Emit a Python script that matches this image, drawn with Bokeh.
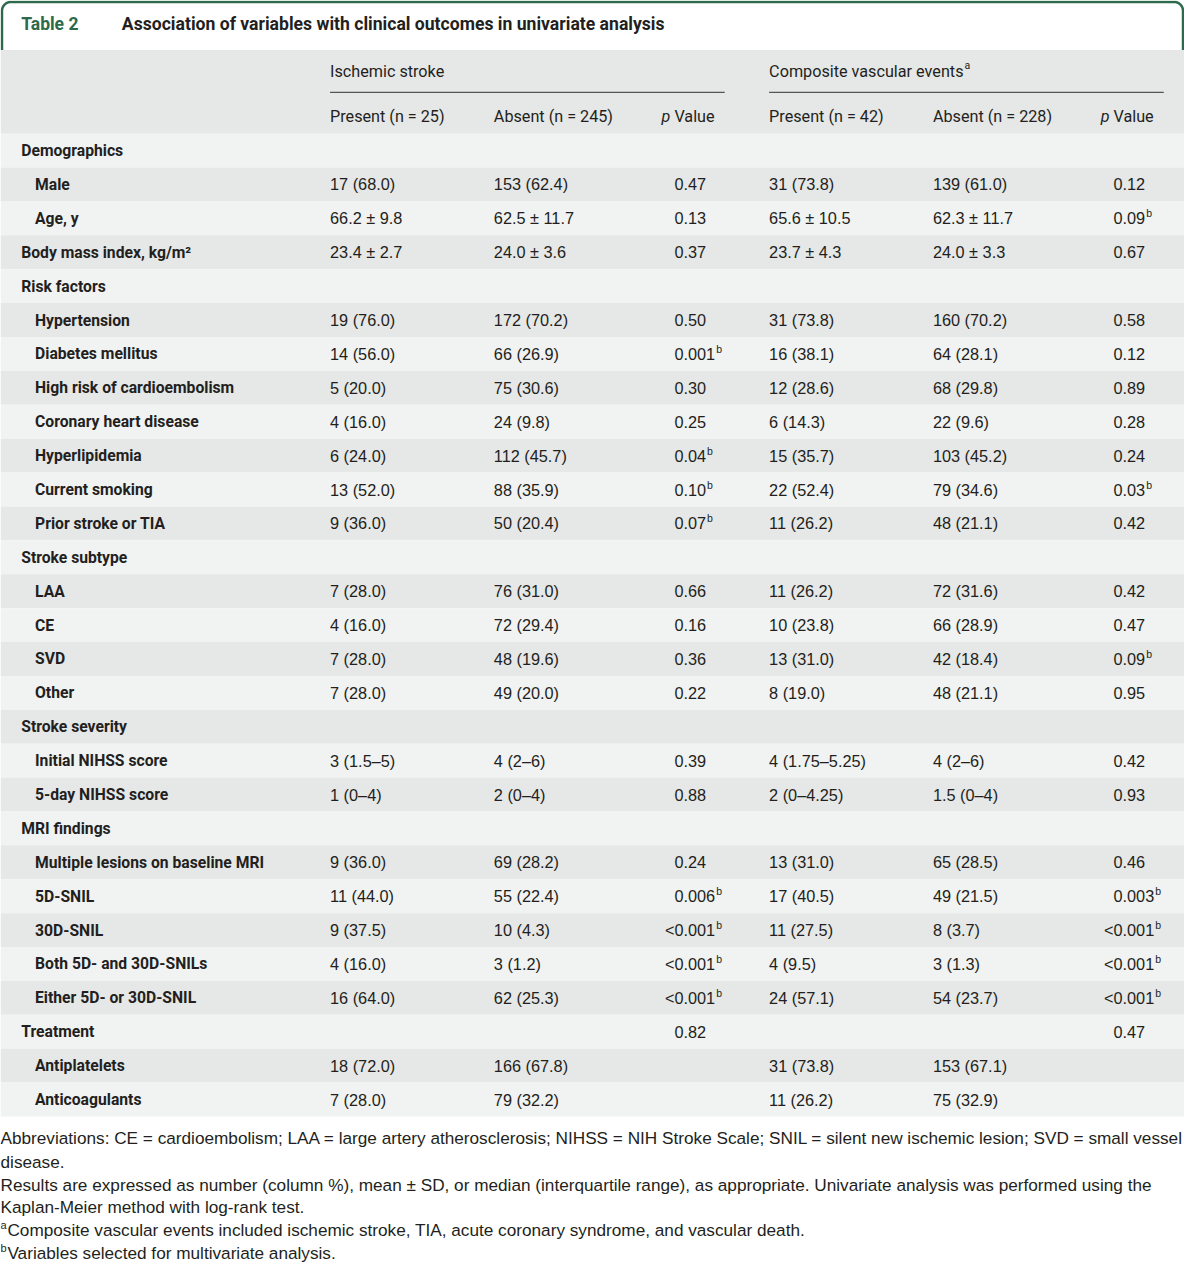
import math
from bokeh.plotting import figure
from bokeh.models import ColumnDataSource, Range1d
from bokeh.core.properties import value
from bokeh.embed import file_html
from bokeh.resources import INLINE

# ---------------- data ----------------
title_tag = "Table 2"
title_text = "Association of variables with clinical outcomes in univariate analysis"
group_labels = ["Ischemic stroke", "Composite vascular events"]
group_notes = ["", "a"]
col_headers = ["Present (n = 25)", "Absent (n = 245)", "p Value",
               "Present (n = 42)", "Absent (n = 228)", "p Value"]

labels = ["Demographics", "Male", "Age, y", "Body mass index, kg/m\u00b2", "Risk factors",
          "Hypertension", "Diabetes mellitus", "High risk of cardioembolism",
          "Coronary heart disease", "Hyperlipidemia", "Current smoking", "Prior stroke or TIA",
          "Stroke subtype", "LAA", "CE", "SVD", "Other", "Stroke severity",
          "Initial NIHSS score", "5-day NIHSS score", "MRI findings",
          "Multiple lesions on baseline MRI", "5D-SNIL", "30D-SNIL", "Both 5D- and 30D-SNILs",
          "Either 5D- or 30D-SNIL", "Treatment", "Antiplatelets", "Anticoagulants"]
level = [0, 1, 1, 0, 0, 1, 1, 1, 1, 1, 1, 1, 0, 1, 1, 1, 1, 0, 1, 1, 0, 1, 1, 1, 1, 1, 0, 1, 1]

is_present = ["", "17 (68.0)", "66.2 \u00b1 9.8", "23.4 \u00b1 2.7", "",
              "19 (76.0)", "14 (56.0)", "5 (20.0)", "4 (16.0)", "6 (24.0)", "13 (52.0)", "9 (36.0)",
              "", "7 (28.0)", "4 (16.0)", "7 (28.0)", "7 (28.0)", "",
              "3 (1.5\u20135)", "1 (0\u20134)", "",
              "9 (36.0)", "11 (44.0)", "9 (37.5)", "4 (16.0)", "16 (64.0)", "", "18 (72.0)", "7 (28.0)"]
is_absent = ["", "153 (62.4)", "62.5 \u00b1 11.7", "24.0 \u00b1 3.6", "",
             "172 (70.2)", "66 (26.9)", "75 (30.6)", "24 (9.8)", "112 (45.7)", "88 (35.9)", "50 (20.4)",
             "", "76 (31.0)", "72 (29.4)", "48 (19.6)", "49 (20.0)", "",
             "4 (2\u20136)", "2 (0\u20134)", "",
             "69 (28.2)", "55 (22.4)", "10 (4.3)", "3 (1.2)", "62 (25.3)", "", "166 (67.8)", "79 (32.2)"]
is_p = ["", "0.47", "0.13", "0.37", "",
        "0.50", "0.001", "0.30", "0.25", "0.04", "0.10", "0.07",
        "", "0.66", "0.16", "0.36", "0.22", "",
        "0.39", "0.88", "",
        "0.24", "0.006", "<0.001", "<0.001", "<0.001", "0.82", "", ""]
is_p_note = ["", "", "", "", "", "", "b", "", "", "b", "b", "b",
             "", "", "", "", "", "", "", "", "", "", "b", "b", "b", "b", "", "", ""]
cve_present = ["", "31 (73.8)", "65.6 \u00b1 10.5", "23.7 \u00b1 4.3", "",
               "31 (73.8)", "16 (38.1)", "12 (28.6)", "6 (14.3)", "15 (35.7)", "22 (52.4)", "11 (26.2)",
               "", "11 (26.2)", "10 (23.8)", "13 (31.0)", "8 (19.0)", "",
               "4 (1.75\u20135.25)", "2 (0\u20134.25)", "",
               "13 (31.0)", "17 (40.5)", "11 (27.5)", "4 (9.5)", "24 (57.1)", "", "31 (73.8)", "11 (26.2)"]
cve_absent = ["", "139 (61.0)", "62.3 \u00b1 11.7", "24.0 \u00b1 3.3", "",
              "160 (70.2)", "64 (28.1)", "68 (29.8)", "22 (9.6)", "103 (45.2)", "79 (34.6)", "48 (21.1)",
              "", "72 (31.6)", "66 (28.9)", "42 (18.4)", "48 (21.1)", "",
              "4 (2\u20136)", "1.5 (0\u20134)", "",
              "65 (28.5)", "49 (21.5)", "8 (3.7)", "3 (1.3)", "54 (23.7)", "", "153 (67.1)", "75 (32.9)"]
cve_p = ["", "0.12", "0.09", "0.67", "",
         "0.58", "0.12", "0.89", "0.28", "0.24", "0.03", "0.42",
         "", "0.42", "0.47", "0.09", "0.95", "",
         "0.42", "0.93", "",
         "0.46", "0.003", "<0.001", "<0.001", "<0.001", "0.47", "", ""]
cve_p_note = ["", "", "b", "", "", "", "", "", "", "", "b", "",
              "", "", "", "b", "", "", "", "", "", "", "b", "b", "b", "b", "", "", ""]

footnotes = [
    "Abbreviations: CE = cardioembolism; LAA = large artery atherosclerosis; NIHSS = NIH Stroke Scale; SNIL = silent new ischemic lesion; SVD = small vessel",
    "disease.",
    "Results are expressed as number (column %), mean \u00b1 SD, or median (interquartile range), as appropriate. Univariate analysis was performed using the",
    "Kaplan-Meier method with log-rank test.",
    "Composite vascular events included ischemic stroke, TIA, acute coronary syndrome, and vascular death.",
    "Variables selected for multivariate analysis.",
]
footnote_marks = ["", "", "", "", "a", "b"]

# ---------------- layout ----------------
W, H = 1200, 1281
PXW = 1184
K = W / PXW  # data units per screen pixel
GREEN = "#2d6a4c"
TXT = "#231f20"
DARK_BAND = "#e6e7e7"
LIGHT_BAND = "#f1f2f2"
LABEL_FONT = value("Roboto")
NUM_FONT = value("Liberation Sans")
NUM_PX = 16.3
# Liberation Sans advance widths (em) for p-value characters
ADV = {".": 0.278, "<": 0.584}


def num_width(s, px):
    return sum(ADV.get(c, 0.556) for c in s) * px * K


p = figure(width=PXW, height=1265, x_range=Range1d(0, W), y_range=Range1d(H, 0),
           output_backend="svg", toolbar_location=None, min_border=0)
p.axis.visible = False
p.grid.visible = False
p.outline_line_color = None
p.background_fill_color = "white"

row0, rh = 152.0, 34.32
n = len(labels)
ys = [row0 + i * rh for i in range(n)]

# header band
p.quad(left=[0], right=[W], top=[50], bottom=[ys[0] - rh / 2], fill_color=DARK_BAND, line_color=None)
# row bands
p.quad(left=[0] * n, right=[W] * n,
       top=[y - rh / 2 for y in ys], bottom=[y + rh / 2 for y in ys],
       fill_color=[LIGHT_BAND if i % 2 == 0 else DARK_BAND for i in range(n)], line_color=None)

# green frame at top (rounded corners)
r = 9
steps = [k * math.pi / 2 / 12 for k in range(13)]
xs_l = [1.5] + [1.5 + r - r * math.cos(t) for t in steps] + \
       [W - 1.5 - r + r * math.sin(t) for t in steps] + [W - 1.5]
ys_l = [50] + [1.5 + r - r * math.sin(t) for t in steps] + \
       [1.5 + r - r * math.cos(t) for t in steps] + [50]
p.line(xs_l, ys_l, line_color=GREEN, line_width=2.5)

# title
p.text(x=[21], y=[24], text=[title_tag], text_font=LABEL_FONT, text_font_style="bold",
       text_font_size="17.5px", text_color=GREEN, text_baseline="middle")
p.text(x=[123], y=[24], text=[title_text], text_font=LABEL_FONT, text_font_style="bold",
       text_font_size="17.6px", text_color=TXT, text_baseline="middle")

# header
p.text(x=[334, 779], y=[72, 72], text=group_labels, text_font=LABEL_FONT,
       text_font_size="16.2px", text_color=TXT, text_baseline="middle")
p.text(x=[977], y=[66], text=[group_notes[1]], text_font=LABEL_FONT,
       text_font_size="10.5px", text_color=TXT, text_baseline="middle")
p.segment(x0=[334, 779], x1=[734, 1179], y0=[93, 93], y1=[93, 93], line_color="#555555", line_width=1.2)
plain = [h for h in col_headers if not h.startswith("p ")]
p.text(x=[334, 500, 779, 945], y=[117] * 4, text=plain, text_font=LABEL_FONT,
       text_font_size="16.2px", text_color=TXT, text_baseline="middle")
p.text(x=[670, 1115], y=[117, 117], text=["p", "p"], text_font=LABEL_FONT, text_font_style="italic",
       text_font_size="16.2px", text_color=TXT, text_baseline="middle")
p.text(x=[683, 1128], y=[117, 117], text=["Value", "Value"], text_font=LABEL_FONT,
       text_font_size="16.2px", text_color=TXT, text_baseline="middle")

# labels
lab_src = ColumnDataSource(dict(x=[21 if lv == 0 else 35 for lv in level], y=ys, t=labels))
p.text(x="x", y="y", text="t", source=lab_src, text_font=LABEL_FONT, text_font_style="bold",
       text_font_size="15.7px", text_color=TXT, text_baseline="middle")

# value columns
for colx, vals in [(334, is_present), (500, is_absent), (779, cve_present), (945, cve_absent)]:
    src = ColumnDataSource(dict(x=[colx] * n, y=ys, t=vals))
    p.text(x="x", y="y", text="t", source=src, text_font=NUM_FONT,
           text_font_size=f"{NUM_PX}px", text_color=TXT, text_baseline="middle")

# p value columns, aligned on the leading digit, with superscript notes
for colx, vals, notes in [(683, is_p, is_p_note), (1128, cve_p, cve_p_note)]:
    main = [v[1:] if v.startswith("<") else v for v in vals]
    pre = ["<" if v.startswith("<") else "" for v in vals]
    src = ColumnDataSource(dict(x=[colx] * n, y=ys, t=main, pre=pre))
    p.text(x="x", y="y", text="t", source=src, text_font=NUM_FONT,
           text_font_size=f"{NUM_PX}px", text_color=TXT, text_baseline="middle")
    p.text(x="x", y="y", text="pre", source=src, text_font=NUM_FONT, text_align="right",
           text_font_size=f"{NUM_PX}px", text_color=TXT, text_baseline="middle")
    nsrc = ColumnDataSource(dict(x=[colx + num_width(m, NUM_PX) + 1 for m in main],
                                 y=[y - 5 for y in ys], t=notes))
    p.text(x="x", y="y", text="t", source=nsrc, text_font=NUM_FONT,
           text_font_size="10.5px", text_color=TXT, text_baseline="middle")

# footnotes
fy = [1152, 1176, 1199, 1222, 1245, 1268]
fx = [7 if m else 0 for m in footnote_marks]
p.text(x=fx, y=fy, text=footnotes, text_font=NUM_FONT,
       text_font_size="17.2px", text_color=TXT, text_baseline="middle")
p.text(x=[0] * len(fy), y=[y - 5 for y in fy], text=footnote_marks, text_font=NUM_FONT,
       text_font_size="11px", text_color=TXT, text_baseline="middle")

open("out.html", "w").write(file_html(p, INLINE))
